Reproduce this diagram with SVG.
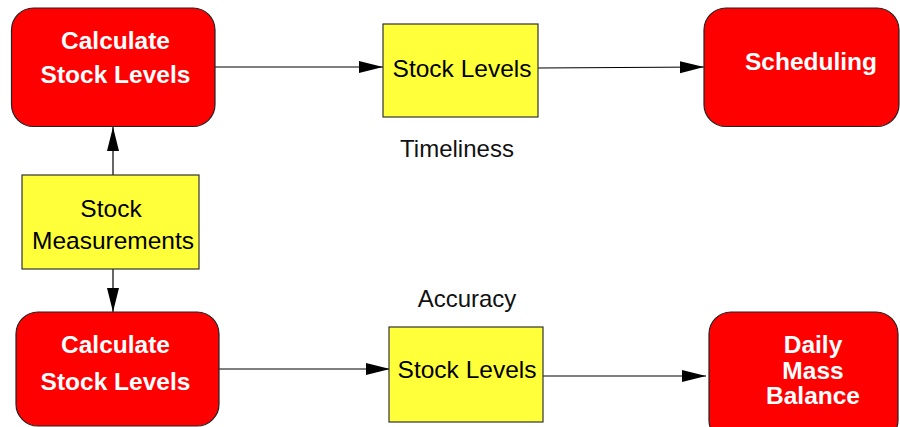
<svg xmlns="http://www.w3.org/2000/svg" width="900" height="427" viewBox="0 0 900 427">
<defs>
<marker id="arr" markerUnits="userSpaceOnUse" markerWidth="24" markerHeight="14" refX="24" refY="7" orient="auto">
<path d="M0,1 L24,7 L0,13 Z" fill="#000"/>
</marker>
<style>
.proc{fill:#ff0000;stroke:#222;stroke-width:1.2}
.data{fill:#ffff3a;stroke:#333;stroke-width:1.2}
.pt{font-family:"Liberation Sans",Arial,sans-serif;font-weight:bold;font-size:24.5px;fill:#fff;text-anchor:middle}
.dt{font-family:"Liberation Sans",Arial,sans-serif;font-size:24.5px;fill:#000;text-anchor:middle}
.lbl{font-family:"Liberation Sans",Arial,sans-serif;font-size:24px;fill:#111;text-anchor:middle}
.edge{stroke:#000;stroke-width:1.2;fill:none;marker-end:url(#arr)}
</style>
</defs>
<rect width="900" height="427" fill="#fff"/>
<g id="edges">
<path class="edge" d="M215,67 L383,67"/>
<path class="edge" d="M538,68 L704,67"/>
<path class="edge" d="M113,175 L113,127"/>
<path class="edge" d="M113,269 L113,312"/>
<path class="edge" d="M219,369 L390,369"/>
<path class="edge" d="M543,376 L706,376"/>
</g>
<g id="calc-top">
<rect class="proc" x="11.5" y="8" width="203.5" height="118.5" rx="22"/>
<text class="pt" x="115.5" y="48.5">Calculate</text>
<text class="pt" x="115.5" y="83">Stock Levels</text>
</g>
<g id="stock-levels-top">
<rect class="data" x="383" y="24" width="155" height="93"/>
<text class="dt" x="462" y="77">Stock Levels</text>
</g>
<g id="scheduling">
<rect class="proc" x="704" y="8" width="195" height="118.5" rx="22"/>
<text class="pt" x="811" y="70">Scheduling</text>
</g>
<g id="timeliness">
<text class="lbl" x="457" y="157">Timeliness</text>
</g>
<g id="stock-measurements">
<rect class="data" x="22" y="175" width="177" height="94"/>
<text class="dt" x="111" y="217">Stock</text>
<text class="dt" x="113" y="249">Measurements</text>
</g>
<g id="accuracy">
<text class="lbl" x="467" y="307">Accuracy</text>
</g>
<g id="calc-bottom">
<rect class="proc" x="16" y="312" width="203" height="114" rx="22"/>
<text class="pt" x="115.5" y="353">Calculate</text>
<text class="pt" x="115.5" y="390">Stock Levels</text>
</g>
<g id="stock-levels-bottom">
<rect class="data" x="389" y="327" width="154" height="95"/>
<text class="dt" x="467" y="378">Stock Levels</text>
</g>
<g id="daily-mass-balance">
<rect class="proc" x="709" y="312" width="189" height="130" rx="22"/>
<text class="pt" x="813" y="353">Daily</text>
<text class="pt" x="813" y="378.5">Mass</text>
<text class="pt" x="813" y="404">Balance</text>
</g>
</svg>
